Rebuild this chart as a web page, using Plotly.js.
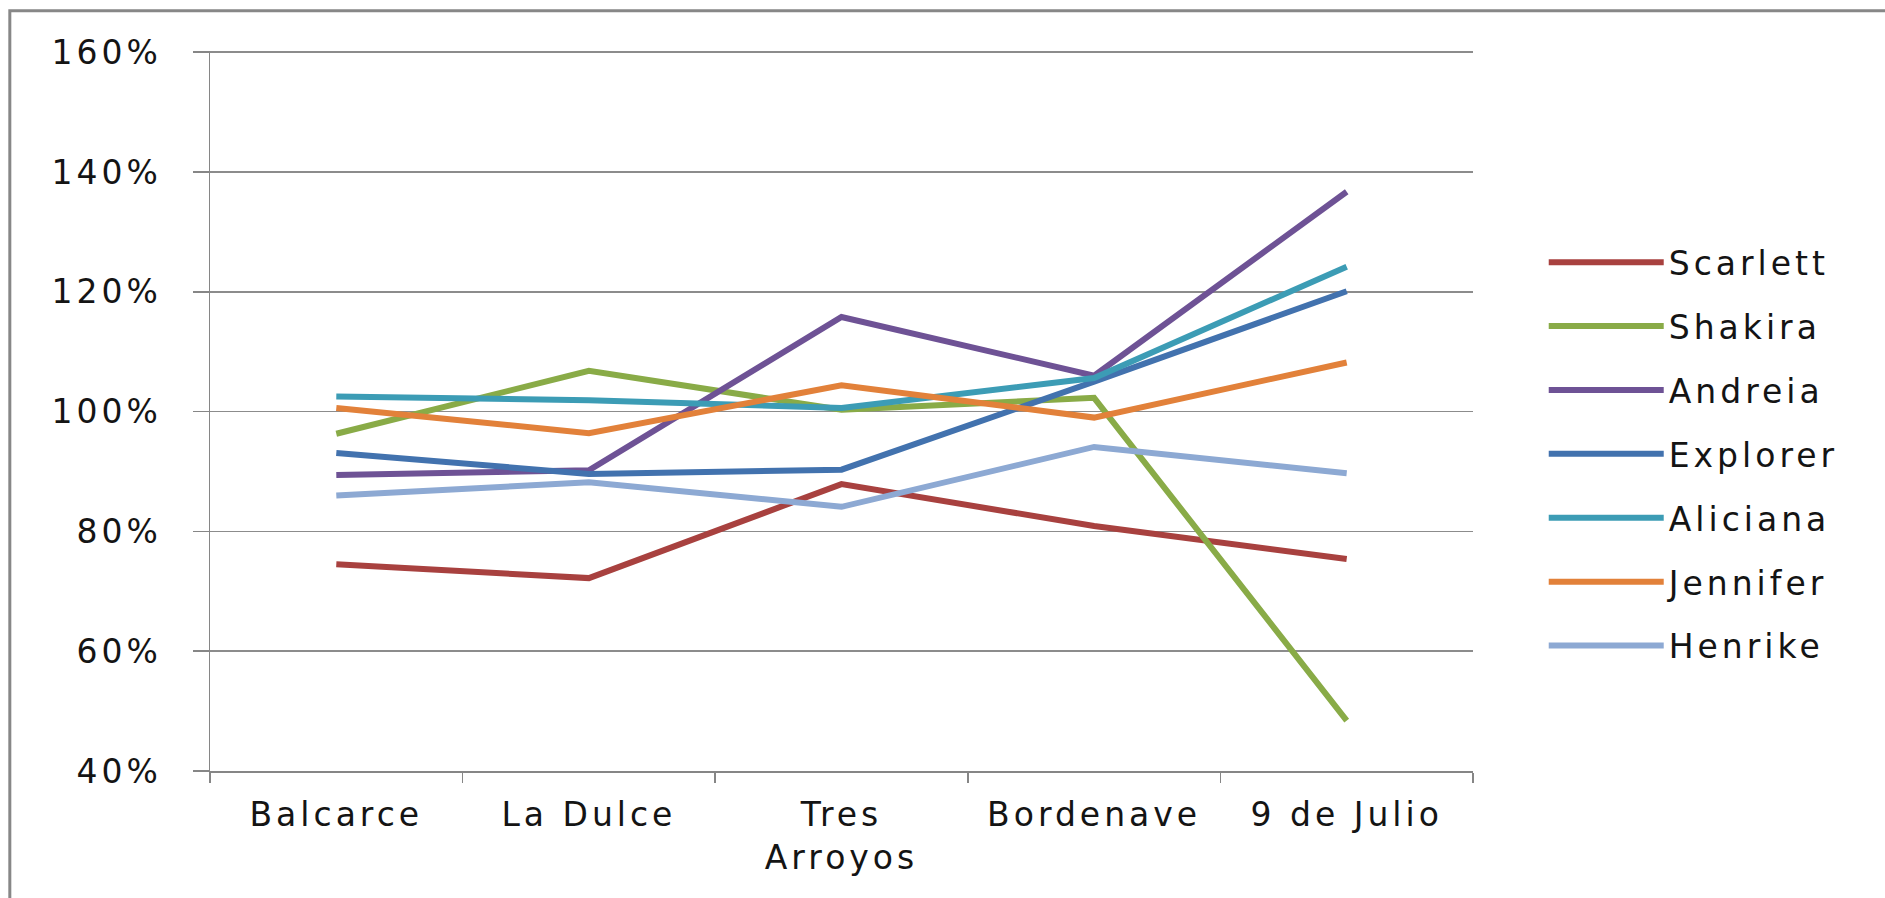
<!DOCTYPE html>
<html>
<head>
<meta charset="utf-8">
<script src="https://cdn.plot.ly/plotly-3.0.1.min.js"></script>
<style>
html,body{margin:0;padding:0;background:#fff;}
#chart{width:1885px;height:898px;}
text{letter-spacing:4px;}
</style>
</head>
<body>
<div id="chart"></div>
<script>
const categories = ["Balcarce", "La Dulce", "Tres<br>Arroyos", "Bordenave", "9 de Julio"];

const scarlett = [74.5, 72.2, 87.9, 80.9, 75.4];
const shakira  = [96.3, 106.8, 100.3, 102.3, 48.4];
const andreia  = [89.4, 90.2, 115.8, 106.0, 136.7];
const explorer = [93.1, 89.6, 90.3, 105.0, 120.1];
const aliciana = [102.5, 101.9, 100.6, 105.6, 124.2];
const jennifer = [100.6, 96.4, 104.4, 99.0, 108.2];
const henrike  = [86.0, 88.2, 84.1, 94.1, 89.7];

const seriesNames = ["Scarlett", "Shakira", "Andreia", "Explorer", "Aliciana", "Jennifer", "Henrike"];
const seriesValues = [scarlett, shakira, andreia, explorer, aliciana, jennifer, henrike];
const seriesColors = ["#A8413F", "#89AB47", "#6E5295", "#4272AE", "#3C9CB5", "#E2813A", "#8DA9D3"];

const yTickVals = [40, 60, 80, 100, 120, 140, 160];
const yTickText = ["40%", "60%", "80%", "100%", "120%", "140%", "160%"];

const FONT = "'DejaVu Sans', Verdana, sans-serif";

const traces = seriesNames.map((name, i) => ({
  type: "scatter",
  mode: "lines",
  name: name,
  legendgroup: name,
  x: categories,
  y: seriesValues[i],
  line: {color: seriesColors[i], width: 6},
  hoverinfo: "x+y+name"
}));

const layout = {
  width: 1885,
  height: 898,
  paper_bgcolor: "#ffffff",
  plot_bgcolor: "#ffffff",
  margin: {l: 210, r: 412, t: 51, b: 127},
  font: {family: FONT, size: 33, color: "#141414"},
  showlegend: true,
  legend: {
    x: 1.056,
    xanchor: "left",
    y: 0.44,
    yanchor: "middle",
    font: {family: FONT, size: 33, color: "#141414"},
    tracegroupgap: 18,
    itemwidth: 115,
    bgcolor: "rgba(0,0,0,0)"
  },
  xaxis: {
    type: "category",
    range: [-0.5, 4.5],
    showgrid: false,
    zeroline: false,
    showline: true,
    linecolor: "#868686",
    linewidth: 1.5,
    ticks: "outside",
    tickson: "boundaries",
    ticklen: 10,
    tickcolor: "#868686",
    tickwidth: 1.5,
    tickfont: {family: FONT, size: 33, color: "#141414"},
    ticklabelstandoff: 14
  },
  yaxis: {
    range: [40, 160.2],
    tickmode: "array",
    tickvals: yTickVals,
    ticktext: yTickText,
    showgrid: true,
    gridcolor: "#8c8c8c",
    gridwidth: 1.5,
    zeroline: false,
    showline: true,
    linecolor: "#868686",
    linewidth: 1.5,
    ticks: "outside",
    ticklen: 16,
    tickcolor: "#868686",
    tickwidth: 1.5,
    tickfont: {family: FONT, size: 33, color: "#141414"},
    ticklabelstandoff: 24
  },
  shapes: [{
    type: "rect",
    xref: "paper", yref: "paper",
    x0: -0.1585, x1: 1.6, y0: -0.6, y1: 1.056,
    line: {color: "#878787", width: 3},
    fillcolor: "rgba(0,0,0,0)",
    layer: "below"
  }]
};

Plotly.newPlot("chart", traces, layout, {displayModeBar: false, staticPlot: true});
</script>
</body>
</html>
